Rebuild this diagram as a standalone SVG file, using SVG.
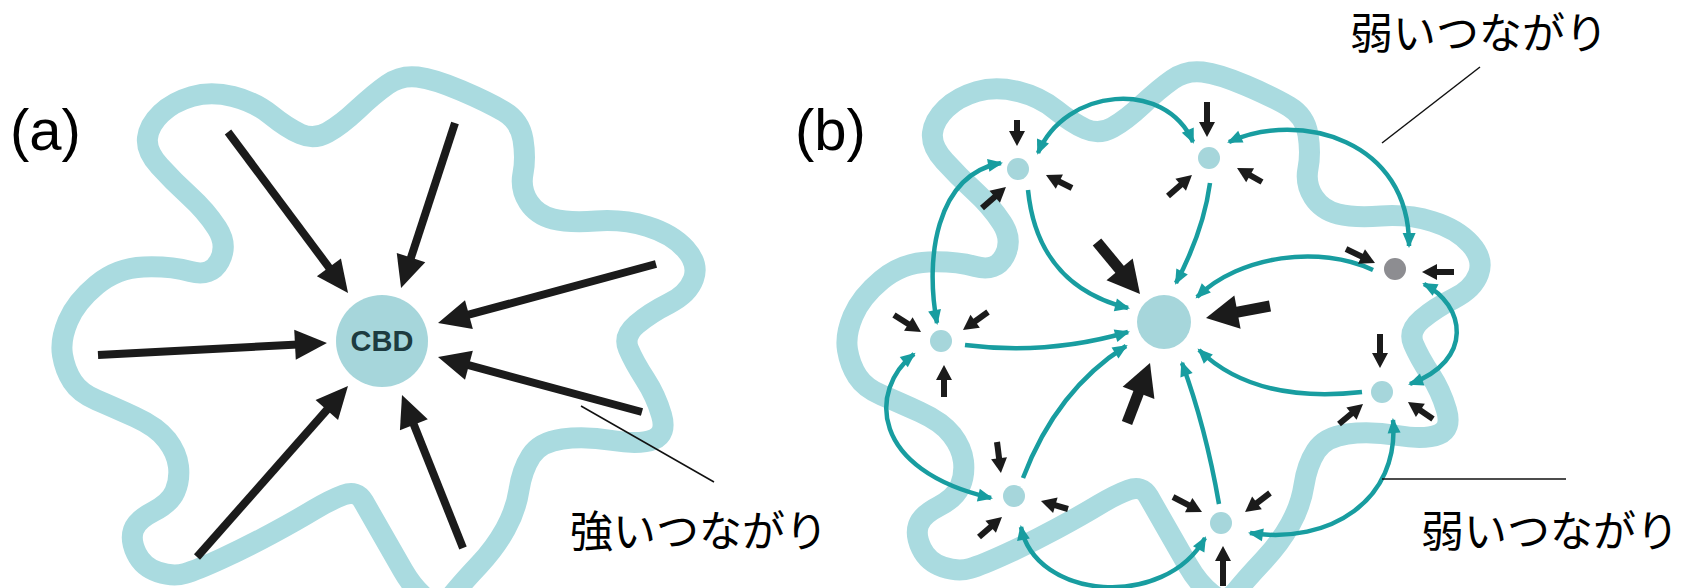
<svg xmlns="http://www.w3.org/2000/svg" xmlns:xlink="http://www.w3.org/1999/xlink" width="1697" height="588" viewBox="0 0 1697 588">
<style>
.band{fill:none;stroke:#aadbe0;stroke-width:21;stroke-linejoin:round;stroke-linecap:round}
.bigA{stroke:#1b1b1b;stroke-width:8;fill:none;marker-end:url(#headA)}
.sm{stroke:#1b1b1b;stroke-width:6;fill:none;marker-end:url(#headS)}
.bg{stroke:#1b1b1b;stroke-width:11;fill:none;marker-end:url(#headB)}
.strong{stroke:#189da0;stroke-width:4.5;fill:none;marker-end:url(#headT)}
.weak{stroke:#189da0;stroke-width:4.5;fill:none;marker-start:url(#headT);marker-end:url(#headT)}
.node{fill:#a6d6db}
.lead{stroke:#111;stroke-width:1.5;fill:none}
.lbl{font-family:"Liberation Sans",Arial,sans-serif;font-size:58px;fill:#000}
.jp{font-family:"Noto Sans CJK JP","Noto Sans",sans-serif;font-size:43px;fill:#000}
.cbd{font-family:"Liberation Sans",Arial,sans-serif;font-weight:bold;font-size:29px;fill:#1d3b40}
</style>
<defs>
<marker id="headA" markerUnits="userSpaceOnUse" markerWidth="34" markerHeight="30" refX="8" refY="15" orient="auto" overflow="visible"><path d="M0,0 L32,15 L0,30 Z" fill="#1b1b1b"/></marker>
<marker id="headS" markerUnits="userSpaceOnUse" markerWidth="16" markerHeight="16" refX="6" refY="8" orient="auto" overflow="visible"><path d="M0,0 L15,8 L0,16 Z" fill="#1b1b1b"/></marker>
<marker id="headB" markerUnits="userSpaceOnUse" markerWidth="34" markerHeight="34" refX="8" refY="17" orient="auto" overflow="visible"><path d="M0,0 L32,17 L0,34 Z" fill="#1b1b1b"/></marker>
<marker id="headT" markerUnits="userSpaceOnUse" markerWidth="16" markerHeight="13" refX="13" refY="6.5" orient="auto-start-reverse" overflow="visible"><path d="M0,0 L15,6.5 L0,13 Z" fill="#189da0"/></marker>
<path id="outline" d="M62.5,355 Q60,340 68,321 Q76,302 96.5,285 Q117,268 143.5,267 Q170,266 190.5,271.5 Q211,277 219.5,261 Q228,245 217,228 Q206,211 189.5,196 Q173,181 159.5,166 Q146,151 147.5,138 Q149,125 161,113.5 Q173,102 192,96.5 Q211,91 233,96.5 Q255,102 271,115 Q287,128 300.5,134 Q314,140 327.5,132.5 Q341,125 357.5,109.5 Q374,94 387.5,84.5 Q401,75 417.5,77 Q434,79 461,90.5 Q488,102 504,111.5 Q520,121 523,139.5 Q526,158 523,173.5 Q520,189 528.5,202 Q537,215 553,219 Q569,223 596,221 Q623,219 647.5,226.5 Q672,234 685.5,249 Q699,264 693.5,279 Q688,294 669,303.5 Q650,313 636.5,324.5 Q623,336 628.5,349 Q634,362 645,379 Q656,396 661.5,415 Q667,434 653.5,439.5 Q640,445 612.5,440.5 Q585,436 562.5,439 Q540,442 531,456 Q522,470 519,490 Q516,510 505.5,529 Q495,548 479,565 Q463,582 451.5,596 Q440,610 426.5,599 Q413,588 403,570.5 Q393,553 381.5,533 Q370,513 363.5,501.5 Q357,490 343.5,495 Q330,500 313.5,510 Q297,520 272,533.5 Q247,547 222,558.5 Q197,570 185,573.5 Q173,577 158,572 Q143,567 136.5,553.5 Q130,540 133.5,530 Q137,520 153.5,511.5 Q170,503 175,491.5 Q180,480 178.5,466.5 Q177,453 167,440 Q157,427 135,417 Q113,407 96.5,400 Q80,393 72.5,381.5 Q65,370 62.5,355 Z"/>
</defs>
<rect x="0" y="0" width="1697" height="588" fill="#ffffff"/>

<g id="outlines">
<use href="#outline" xlink:href="#outline" class="band"/>
<use href="#outline" xlink:href="#outline" class="band" transform="translate(785,-5)"/>
</g>

<g id="connectors">
<!-- panel a: strong flows into CBD -->
<line class="bigA" x1="228" y1="132" x2="333.7" y2="273.8"/>
<line class="bigA" x1="455" y1="123" x2="408.5" y2="265.2"/>
<line class="bigA" x1="656" y1="264" x2="461.2" y2="316.7"/>
<line class="bigA" x1="98" y1="355" x2="303" y2="344.3"/>
<line class="bigA" x1="642" y1="412" x2="461.2" y2="363.2"/>
<line class="bigA" x1="197" y1="557" x2="332.1" y2="404"/>
<line class="bigA" x1="463" y1="548" x2="410.9" y2="417.3"/>
<!-- panel b: flows to centre -->
<path class="strong" d="M1028,190 C1035,260 1075,295 1128,308"/>
<path class="strong" d="M1210,183 Q1203.5,231 1176,283"/>
<path class="strong" d="M1373,270 C1320,245 1240,255 1197,297"/>
<path class="strong" d="M1362,392 C1290,400 1235,385 1199,350"/>
<path class="strong" d="M1219,504 Q1205.5,426.5 1182,363"/>
<path class="strong" d="M1023,478 C1045,420 1080,375 1126,346"/>
<path class="strong" d="M965,345 Q1047.5,355.5 1128,332"/>
<!-- panel b: weak links between subcentres -->
<path class="weak" d="M1038,153 C1065,88 1165,78 1193,142"/>
<path class="weak" d="M1229,142 C1300,110 1410,140 1409,246"/>
<path class="weak" d="M1424,284 C1465,305 1475,360 1410,384"/>
<path class="weak" d="M1393,420 C1400,500 1330,545 1250,533"/>
<path class="weak" d="M1021,527 C1035,600 1165,610 1205,538"/>
<path class="weak" d="M914,354 C868,390 870,470 991,498"/>
<path class="weak" d="M1001,163 C935,175 925,260 937,323"/>
<!-- panel b: local inflows -->
<line class="sm" x1="1017" y1="120" x2="1017" y2="137"/>
<line class="sm" x1="1072" y1="188" x2="1054" y2="179"/>
<line class="sm" x1="982" y1="208" x2="999.2" y2="192.9"/>
<line class="sm" x1="1207" y1="102" x2="1207" y2="128"/>
<line class="sm" x1="1168" y1="196" x2="1185.2" y2="180.9"/>
<line class="sm" x1="1262" y1="182" x2="1244.9" y2="172.4"/>
<line class="sm" x1="1346" y1="249" x2="1366.9" y2="259.1"/>
<line class="sm" x1="1454" y1="272" x2="1431" y2="272"/>
<line class="sm" x1="1380" y1="334" x2="1380" y2="359"/>
<line class="sm" x1="1339" y1="424" x2="1356.1" y2="409.8"/>
<line class="sm" x1="1433" y1="419" x2="1415.4" y2="407.1"/>
<line class="sm" x1="1173" y1="497" x2="1194" y2="507.9"/>
<line class="sm" x1="1270" y1="493" x2="1252.2" y2="506.6"/>
<line class="sm" x1="1223" y1="586" x2="1223" y2="555"/>
<line class="sm" x1="997" y1="442" x2="999.8" y2="464.1"/>
<line class="sm" x1="1068" y1="509" x2="1049.6" y2="503.6"/>
<line class="sm" x1="979" y1="537" x2="995.2" y2="522.9"/>
<line class="sm" x1="894" y1="315" x2="913.4" y2="327.2"/>
<line class="sm" x1="988" y1="312" x2="970.3" y2="324.7"/>
<line class="sm" x1="944" y1="397" x2="944" y2="374"/>
<line class="bg" x1="1097" y1="242" x2="1124.7" y2="275.5"/>
<line class="bg" x1="1270" y1="306" x2="1229.6" y2="313.6"/>
<line class="bg" x1="1127" y1="423" x2="1141.4" y2="385.4"/>
<!-- leader lines -->
<line class="lead" x1="581" y1="406" x2="714" y2="482"/>
<line class="lead" x1="1382" y1="143" x2="1480" y2="67"/>
<line class="lead" x1="1382" y1="479" x2="1566" y2="479"/>
</g>

<g id="node-cbd"><circle class="node" cx="382" cy="341" r="46"/><text class="cbd" x="382" y="351" text-anchor="middle">CBD</text></g>
<g id="node-center"><circle class="node" cx="1164" cy="322" r="27"/></g>
<g id="node-tl"><circle class="node" cx="1018" cy="169" r="11"/></g>
<g id="node-t"><circle class="node" cx="1209" cy="158" r="11"/></g>
<g id="node-gray"><circle cx="1395" cy="269" r="11" fill="#8d8d91"/></g>
<g id="node-rl"><circle class="node" cx="1382" cy="392" r="11"/></g>
<g id="node-b"><circle class="node" cx="1221" cy="523" r="11"/></g>
<g id="node-bl"><circle class="node" cx="1014" cy="496" r="11"/></g>
<g id="node-l"><circle class="node" cx="941" cy="341" r="11"/></g>

<g id="labels">
<text class="lbl" x="10" y="150">(a)</text>
<text class="lbl" x="795" y="150">(b)</text>
<text class="jp" x="570" y="547">強いつながり</text>
<text class="jp" x="1350" y="49">弱いつながり</text>
<text class="jp" x="1421" y="547">弱いつながり</text>
</g>
</svg>
